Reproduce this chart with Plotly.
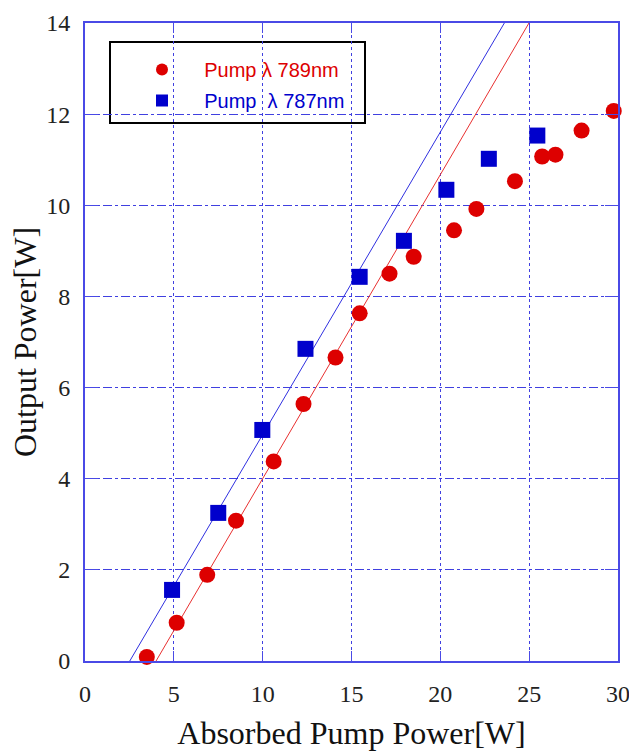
import plotly.graph_objects as go

# Data
red_x = [3.48, 5.16, 6.88, 8.5, 10.62, 12.3, 14.1, 15.46, 17.14, 18.5, 20.77, 22.03, 24.2, 25.73, 26.48, 27.95, 29.76]
red_y = [0.09, 0.84, 1.89, 3.08, 4.38, 5.64, 6.66, 7.63, 8.5, 8.87, 9.45, 9.92, 10.53, 11.07, 11.11, 11.64, 12.07]
blue_x = [4.9, 7.5, 9.98, 12.41, 15.46, 17.95, 20.34, 22.73, 25.46]
blue_y = [1.56, 3.25, 5.07, 6.85, 8.43, 9.22, 10.34, 11.02, 11.53]

# Linear fit lines: threshold (x at y=0) and slope
red_fit = {"threshold": 4.0, "slope": 0.667}
blue_fit = {"threshold": 2.52, "slope": 0.664}
fit_y = [0, 14]

red_name = "Pump \u03bb 789nm"
blue_name = "Pump  \u03bb 787nm"

RED = "#dd0000"
BLUE = "#0000cc"
AXIS = "#4a4ae6"

def fit_x(fit, ys):
    return [fit["threshold"] + y / fit["slope"] for y in ys]

pad = "\u00a0" * 4

fig = go.Figure()
fig.add_trace(go.Scatter(x=fit_x(red_fit, fit_y), y=fit_y, mode="lines",
                         line=dict(color="#e83030", width=1), showlegend=False, hoverinfo="skip"))
fig.add_trace(go.Scatter(x=fit_x(blue_fit, fit_y), y=fit_y, mode="lines",
                         line=dict(color="#3030e0", width=1), showlegend=False, hoverinfo="skip"))
fig.add_trace(go.Scatter(x=red_x, y=red_y, mode="markers", legendgroup="r", cliponaxis=False,
                         name=pad + '<span style="color:%s">%s</span>' % (RED, red_name),
                         marker=dict(symbol="circle", size=16, color=RED, line=dict(width=0))))
fig.add_trace(go.Scatter(x=blue_x, y=blue_y, mode="markers", legendgroup="b", cliponaxis=False,
                         name=pad + '<span style="color:%s">%s</span>' % (BLUE, blue_name),
                         marker=dict(symbol="square", size=16, color=BLUE, line=dict(width=0))))

tickfont = dict(family="Liberation Serif, Times New Roman, serif", size=24, color="#222222")
titlefont = dict(family="Liberation Serif, Times New Roman, serif", size=32, color="#111111")

L, R, T, B = 85, 618, 23, 661
W, H = R - L, B - T

fig.update_layout(
    width=629, height=753,
    margin=dict(l=L, r=629 - R, t=T, b=753 - B, autoexpand=False),
    paper_bgcolor="white", plot_bgcolor="white",
    showlegend=True,
    legend=dict(
        x=(142 - L) / W, y=(B - 50) / H, xanchor="left", yanchor="top",
        bgcolor="rgba(255,255,255,0)", borderwidth=0,
        font=dict(family="Liberation Sans, Arial, sans-serif", size=20),
        tracegroupgap=2, itemsizing="constant", traceorder="grouped",
    ),
    shapes=[dict(type="rect", xref="paper", yref="paper",
                 x0=(110 - L) / W, x1=(365 - L) / W,
                 y0=(B - 123) / H, y1=(B - 42) / H,
                 line=dict(color="black", width=2), fillcolor="white", layer="below")],
)

fig.update_xaxes(
    range=[0, 30], dtick=5, tick0=0, automargin=False, ticklabeloverflow="allow",
    showline=True, linecolor=AXIS, linewidth=2, mirror="ticks",
    ticks="inside", ticklen=10, tickcolor=AXIS, tickwidth=1,
    showgrid=True, gridcolor="#4040e0", griddash="dot", gridwidth=1,
    zeroline=False, tickfont=tickfont, ticklabelstandoff=10,
    title=dict(text="Absorbed Pump Power[W]", font=titlefont, standoff=16),
)
fig.update_yaxes(
    range=[0, 14], dtick=2, tick0=0, automargin=False, ticklabeloverflow="allow",
    showline=True, linecolor=AXIS, linewidth=2, mirror="ticks",
    ticks="inside", ticklen=13, tickcolor=AXIS, tickwidth=1,
    showgrid=True, gridcolor="#4040e0", griddash="dashdot", gridwidth=1,
    zeroline=False, tickfont=tickfont, ticklabelstandoff=8,
    title=dict(text="Output Power[W]", font=titlefont, standoff=0),
)

fig.write_html("out.html", config={"displayModeBar": False},
               post_script="document.body.style.margin='0';")
